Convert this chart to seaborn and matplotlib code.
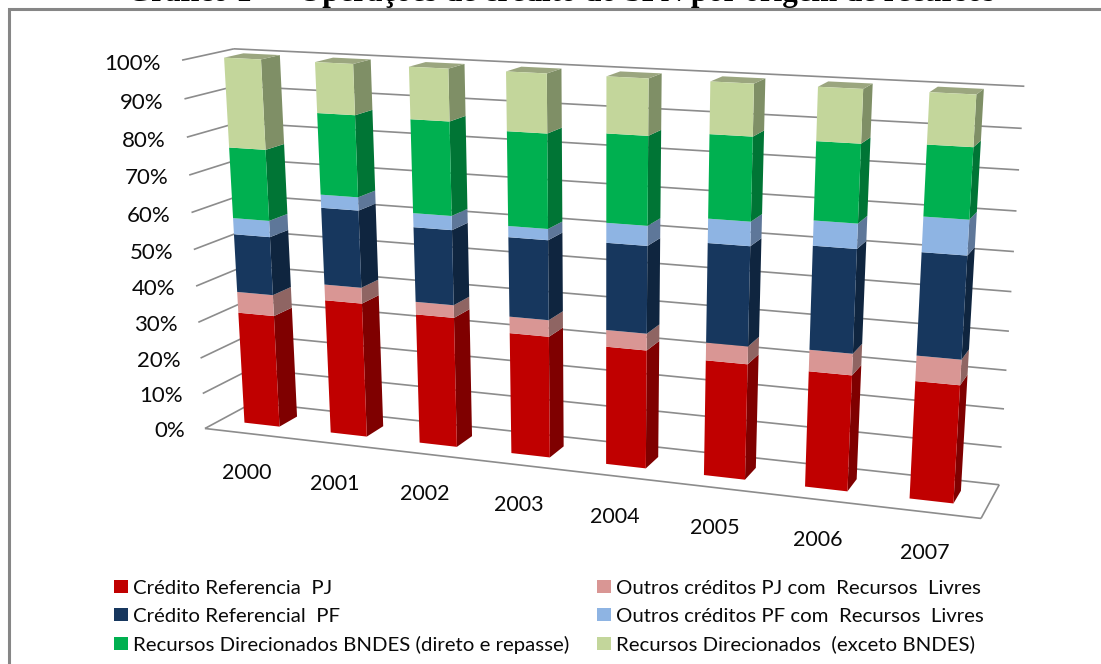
import numpy as np
import matplotlib
matplotlib.use("Agg")
import matplotlib.pyplot as plt
from matplotlib.lines import Line2D
from matplotlib.patches import Patch
from mpl_toolkits.mplot3d import proj3d
from mpl_toolkits.mplot3d.art3d import Line3DCollection
import seaborn as sns

# Shares of credit operations by funding origin, in percent
years = ["2000", "2001", "2002", "2003", "2004", "2005", "2006", "2007"]
credito_pj = [31.3, 37.0, 35.4, 32.7, 31.5, 30.4, 30.1, 30.2]
outros_pj = [5.8, 4.3, 3.4, 4.4, 4.4, 4.6, 5.5, 6.4]
credito_pf = [15.9, 20.7, 19.9, 20.9, 22.6, 25.4, 26.1, 25.5]
outros_pf = [4.4, 3.5, 3.7, 2.9, 5.1, 6.1, 6.2, 8.6]
bndes = [19.0, 21.4, 24.3, 24.2, 22.4, 20.8, 19.2, 17.1]
direcionados = [23.6, 13.1, 13.3, 14.9, 14.0, 12.7, 12.9, 12.2]

series_names = [
    "Crédito Referencia  PJ",
    "Outros créditos PJ com  Recursos  Livres",
    "Crédito Referencial  PF",
    "Outros créditos PF com  Recursos  Livres",
    "Recursos Direcionados BNDES (direto e repasse)",
    "Recursos Direcionados  (exceto BNDES)",
]
series_values = [credito_pj, outros_pj, credito_pf, outros_pf, bndes, direcionados]
tick_values = [0, 10, 20, 30, 40, 50, 60, 70, 80, 90, 100]
title_text = "Gráfico 1  –  Operações de crédito do SFN por origem de recursos"

front_colors = sns.color_palette(["#C00000", "#D99694", "#17375E", "#8EB4E3", "#00B050", "#C3D69B"])
side_colors = sns.color_palette(["#7F0000", "#8F6563", "#0F253F", "#5E7799", "#007535", "#7F8F66"])
top_color = "#9BA67F"
grid_color = "#8C8C8C"
clear = (0, 0, 0, 0)

W, H = 1101, 664
sns.set_theme(style="white")
plt.rcParams["font.family"] = ["Lato", "DejaVu Sans"]

fig = plt.figure(figsize=(W / 100, H / 100), dpi=100, facecolor="white")
ax = fig.add_axes([0, 0, 1, 1], projection="3d", computed_zorder=False)
ax.set_axis_off()
ax.patch.set_alpha(0)

# Camera: a projective map from (slot, depth, percent) to figure pixels,
# solved from where the corners of the chart box should land.
n = len(years)
box = [
    ((0, 0, 0), (205, 429)), ((n, 0, 0), (981, 518)),
    ((0, 1, 0), (253, 402)), ((n, 1, 0), (999, 485)),
    ((0, 1, 100), (234, 49)), ((n, 1, 100), (1024, 86)),
    ((0, 0, 100), (182, 60)), ((n, 1, 50), (1012, 292)),
]
A, b = [], []
for (x, y, z), (u, v) in box:
    A.append([x, y, z, 1, 0, 0, 0, 0, -u * x, -u * y, -u * z])
    A.append([0, 0, 0, 0, x, y, z, 1, -v * x, -v * y, -v * z])
    b += [u, v]
p = np.linalg.lstsq(np.array(A, float), np.array(b, float), rcond=None)[0]
camera = np.array([
    [p[0], p[1], p[2], p[3]],
    [p[4], p[5], p[6], p[7]],
    [0, 0, 0, -1],
    [p[8], p[9], p[10], 1],
])
ax.get_proj = lambda: camera
ax.apply_aspect = lambda position=None: None
ax.set_xlim(0, n)
ax.set_ylim(0, 1)
ax.set_zlim(0, 100)
ax.autoscale(False)

# Side wall, back wall and floor rules
segments = []
for t in tick_values:
    segments.append([(0, 0, t), (0, 1, t)])
    segments.append([(0, 1, t), (n, 1, t)])
segments.append([(0, 0, 0), (n, 0, 0)])
segments.append([(n, 0, 0), (n, 1, 0)])
ax.add_collection3d(Line3DCollection(segments, colors=grid_color, linewidths=1.2, zorder=1))

# Stacked columns: only the faces seen from the camera are painted
bar_left, bar_width = 0.28, 0.41
bar_front, bar_depth = 0.32, 0.38
for i in range(n):
    base = 0.0
    for s, values in enumerate(series_values):
        h = values[i]
        is_top = s == len(series_values) - 1
        faces = [clear, top_color if is_top else clear, front_colors[s], clear, clear, side_colors[s]]
        ax.bar3d(i + bar_left, bar_front, base, bar_width, bar_depth, h,
                 color=faces, shade=False, edgecolor="none", zorder=3)
        base += h

ax.viewLim.intervalx = (0, W)
ax.viewLim.intervaly = (H, 0)


def label_at(x, y, z, text, **kwargs):
    """Write a flat label at the projected position of a chart coordinate."""
    u, v, _ = proj3d.proj_transform(x, y, z, camera)
    fig.text(float(u) / W, 1 - float(v) / H, text, color="#0A0A0A", **kwargs)


for t in tick_values:
    label_at(-0.24, 0, t - 1.3, f"{t}%", ha="right", va="center", fontsize=16)
for i, year in enumerate(years):
    label_at(i * 1.007 + 0.46, 0, -11.6 + 0.15 * i, year, ha="center", va="center", fontsize=15.5)

# Legend entries run down the columns
order = [0, 2, 4, 1, 3, 5]
handles = [Patch(facecolor=front_colors[k], edgecolor="none", label=series_names[k]) for k in order]
fig.legend(handles=handles, ncols=2, frameon=False, fontsize=14.7, loc="upper left",
           bbox_to_anchor=(108 / W, 1 - 573.5 / H), handlelength=0.68, handleheight=0.55,
           handletextpad=0.25, labelspacing=0.54, columnspacing=1.35, labelcolor="#0A0A0A",
           borderpad=0.3, borderaxespad=0)

# Frame around the chart, running off the right and bottom of the image
fig.add_artist(Line2D([9 / W, 9 / W, 1], [0, 1 - 9 / H, 1 - 9 / H], color="#868686", lw=2.2,
                      solid_joinstyle="miter", transform=fig.transFigure))
fig.text(561 / W, 1 - 0.5 / H, title_text, ha="center", va="baseline", fontsize=22.3,
         fontweight="bold", family=["Liberation Serif"], color="black")

fig.savefig("out.png", dpi=100, facecolor="white")
